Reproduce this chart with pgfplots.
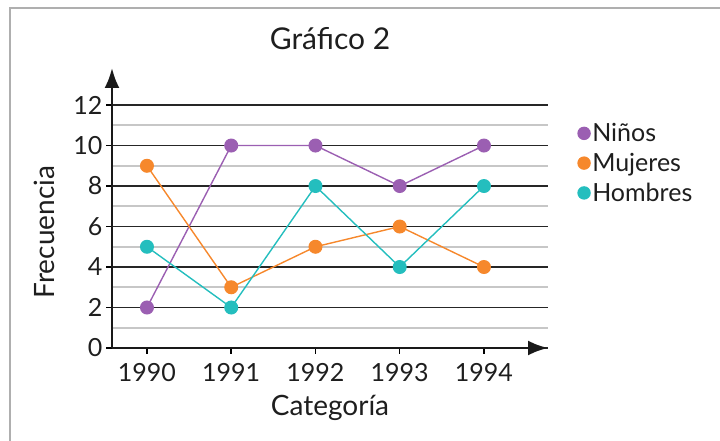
\documentclass[border=0pt]{standalone}
\usepackage{fontspec}
\setmainfont{Lato}
\usepackage{pgfplots}
\pgfplotsset{compat=1.18}
\usetikzlibrary{arrows.meta}
\definecolor{cN}{RGB}{155,95,178}
\definecolor{cM}{RGB}{246,136,44}
\definecolor{cH}{RGB}{36,190,190}
\definecolor{txt}{RGB}{30,30,30}
\definecolor{frame}{RGB}{175,175,175}
\begin{document}
\begin{tikzpicture}[x=1pt,y=1pt]
\path[use as bounding box] (0pt,0pt) rectangle (720pt,441pt);
\draw[frame, line width=1.5pt] (10pt,0pt) -- (10pt,433pt) -- (720pt,433pt);
\begin{axis}[
  at={(112pt,93pt)}, anchor=south west,
  scale only axis, width=436pt, height=280pt,
  xmin=-0.415, xmax=4.76, ymin=0, ymax=13.83,
  axis lines=left,
  axis line style={line width=2.6pt, black!90, -{Latex[length=20pt,width=15pt]}},
  xtick={0,1,2,3,4}, xticklabels={1990,1991,1992,1993,1994},
  ytick={0,2,...,12}, minor ytick={1,3,...,11},
  ymajorgrids, yminorgrids,
  major grid style={line width=1.8pt, black!85},
  minor grid style={line width=2.2pt, black!22},
  tick align=outside, major tick length=6pt, minor tick length=0pt,
  major tick style={line width=1.5pt, black},
  tick label style={font=\fontsize{25}{28}\selectfont, text=txt},
  xticklabel style={yshift=-6pt},
  /pgf/number format/assume math mode=true,
  clip=false,
  title={Gráfico 2},
  title style={at={(axis description cs:0.5,1.082)}, anchor=center, font=\fontsize{30}{33}\selectfont, text=txt},
  xlabel={Categoría},
  xlabel style={at={(axis description cs:0.5,-0.214)}, anchor=center, font=\fontsize{28}{31}\selectfont, text=txt},
  ylabel={Frecuencia},
  ylabel style={at={(axis description cs:-0.154,0.414)}, anchor=center, font=\fontsize{28}{31}\selectfont, text=txt},
  legend style={draw=none, fill=none, at={(axis description cs:1.06,0.815)}, anchor=north west,
    font=\fontsize{25}{28}\selectfont, text=txt, row sep=7pt, nodes={inner sep=1.5pt}},
  legend cell align=left,
  legend image code/.code={\fill[#1] (4pt,0pt) circle (6pt);},
  every axis plot/.append style={line width=1.4pt, mark=*, mark size=6.3pt},
]
\addplot[cN, mark options={fill=cN, draw=cN}] coordinates {(0,2) (1,10) (2,10) (3,8) (4,10)};
\addplot[cM, mark options={fill=cM, draw=cM}] coordinates {(0,9) (1,3) (2,5) (3,6) (4,4)};
\addplot[cH, mark options={fill=cH, draw=cH}] coordinates {(0,5) (1,2) (2,8) (3,4) (4,8)};
\legend{Niños, Mujeres, Hombres}
\end{axis}
\end{tikzpicture}
\end{document}
